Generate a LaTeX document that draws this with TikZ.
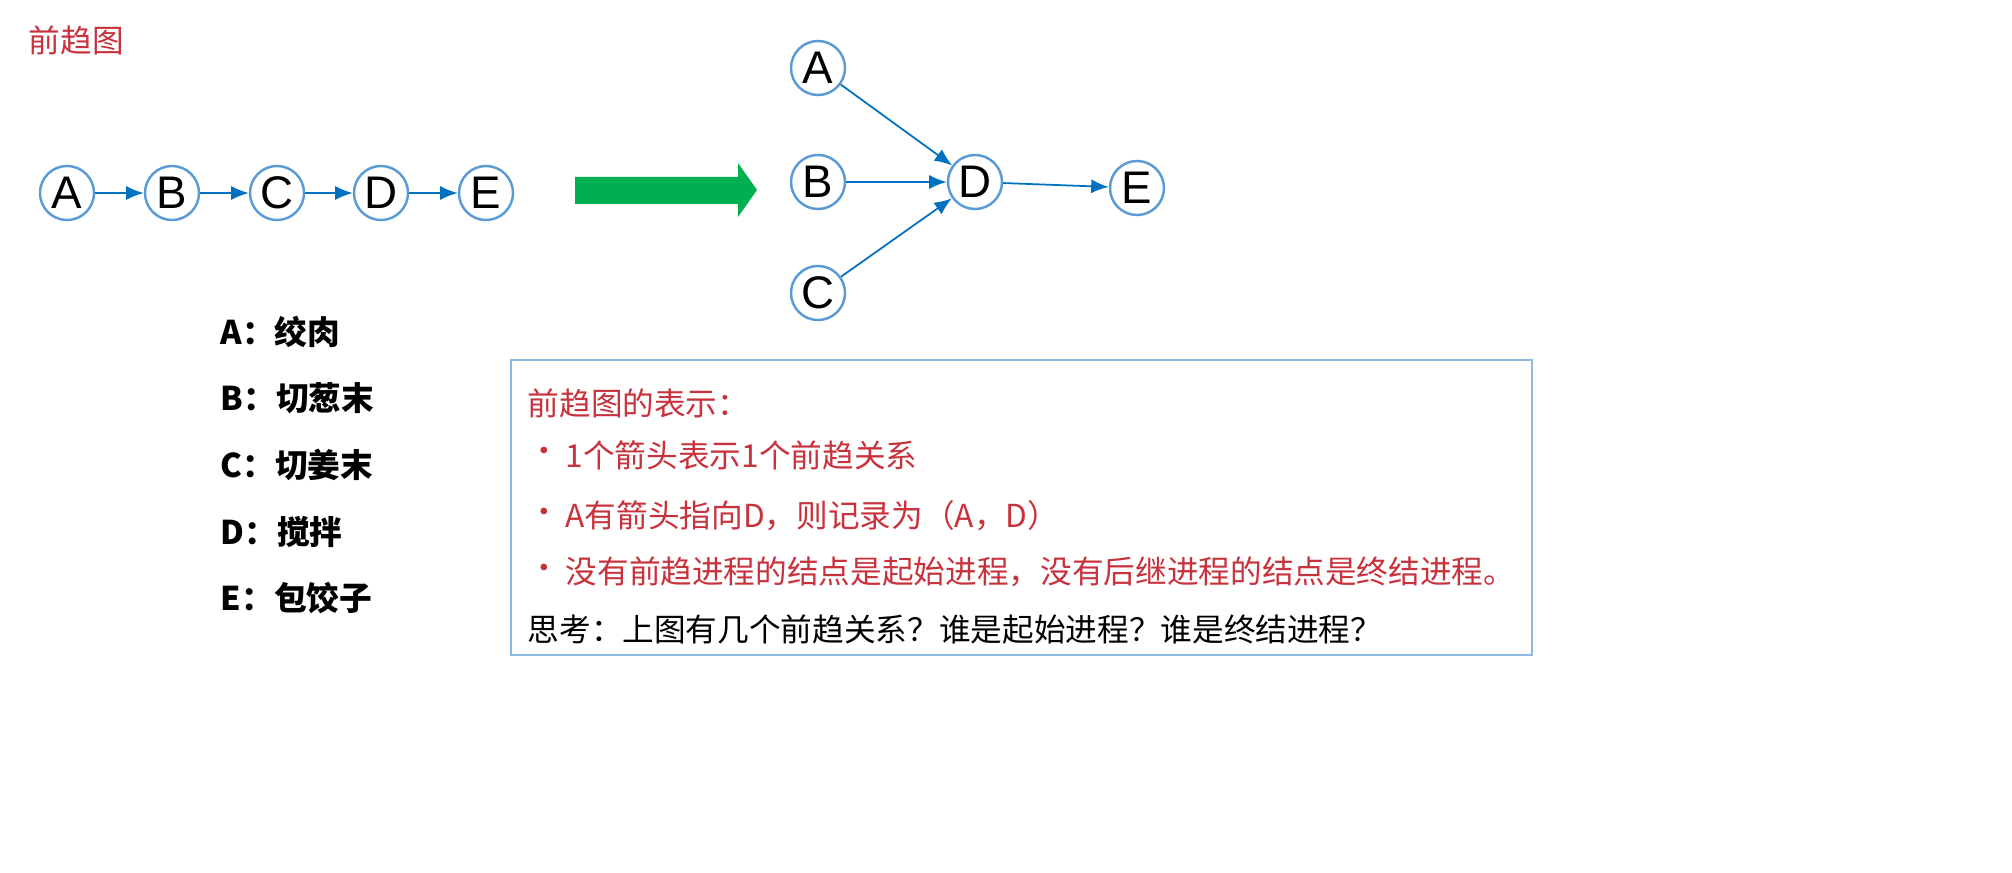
\documentclass[tikz,border=0pt]{standalone}
\usepackage{fontspec}
\setmainfont{Noto Sans CJK SC}
\usetikzlibrary{arrows.meta}
\definecolor{rd}{RGB}{200,50,60}
\definecolor{cb}{RGB}{90,155,213}
\definecolor{ab}{RGB}{0,112,192}
\definecolor{gr}{RGB}{0,176,80}
\begin{document}
\begin{tikzpicture}[x=0.01cm,y=-0.01cm,
 st/.style={circle,draw=cb,line width=0.7pt,minimum size=0.54cm,inner sep=0pt,font=\fontspec{Liberation Sans}\fontsize{13}{13}\selectfont},
 ar/.style={draw=ab,line width=0.5pt,-{Latex[length=5pt,width=4pt]}},
 lb/.style={anchor=west,inner sep=0pt,font=\fontsize{9.3}{10}\selectfont\bfseries},
 tx/.style={anchor=west,inner sep=0pt,font=\fontsize{9}{10}\selectfont}]
\useasboundingbox (0,0) rectangle (2012,873);
\node[anchor=west,inner sep=0pt,text=rd,font=\fontsize{9}{10}\selectfont] (t) at (28,40) {前趋图};
\foreach \n/\x in {A/67,B/172,C/277,D/381,E/486} \node[st] (l\n) at (\x,193) {\n};
\draw[ar] (lA)--(lB); \draw[ar] (lB)--(lC); \draw[ar] (lC)--(lD); \draw[ar] (lD)--(lE);
\fill[gr] (575,177)--(738,177)--(738,163)--(757,190)--(738,217)--(738,204)--(575,204)--cycle;
\node[st] (A) at (818,68) {A};
\node[st] (B) at (818,182) {B};
\node[st] (C) at (818,293) {C};
\node[st] (D) at (975,182) {D};
\node[st] (E) at (1137,188) {E};
\draw[ar] (A)--(D); \draw[ar] (B)--(D); \draw[ar] (C)--(D); \draw[ar] (D)--(E);
\node[lb] (m1) at (220,332) {A：绞肉};
\node[lb] (m2) at (220,398) {B：切葱末};
\node[lb] (m3) at (220,465) {C：切姜末};
\node[lb] (m4) at (220,532) {D：搅拌};
\node[lb] (m5) at (220,598) {E：包饺子};
\draw[cb!70,line width=0.6pt] (511,360) rectangle (1532,655);
\node[tx,text=rd] (h) at (527,403) {前趋图的表示：};
\foreach \y/\s in {455/{1个箭头表示1个前趋关系},516/{A有箭头指向D，则记录为（A，D）},572/{没有前趋进程的结点是起始进程，没有后继进程的结点是终结进程。}}{
 \node[tx,text=rd] at (528,\y) {•};
 \node[tx,text=rd] at (565,\y) {\s};}
\node[tx] (q) at (527,630) {思考：上图有几个前趋关系？谁是起始进程？谁是终结进程？};
\end{tikzpicture}
\end{document}
